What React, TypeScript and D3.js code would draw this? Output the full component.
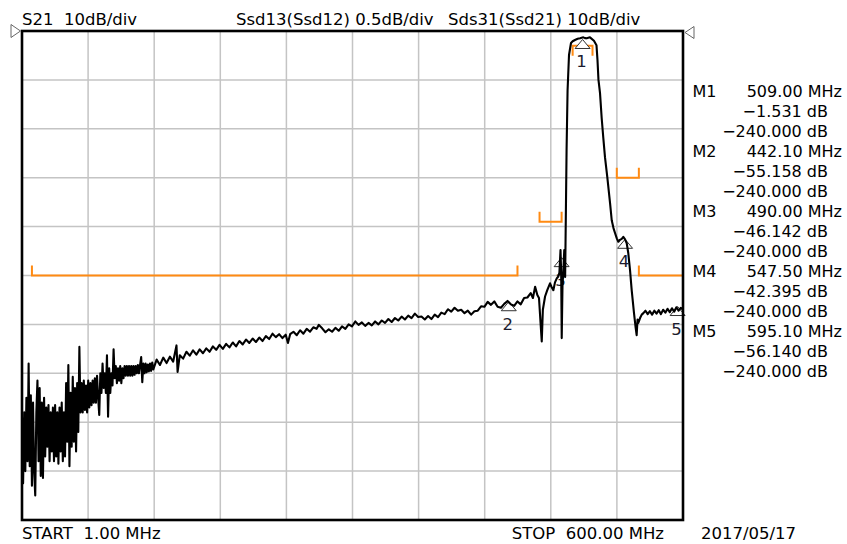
import * as d3 from "d3";
import { useEffect, useRef } from "react";

const chartWidth = 847;
const chartHeight = 544;

// sweep and scale: 1 - 600 MHz, 10 dB/div, reference 0 dB at the top line
const startMHz = 1;
const stopMHz = 600;
const topDb = 0;
const bottomDb = -100;

// low end of the sweep, one reading per MHz (very noisy)
const lowMHz = [
  1, 2, 3, 4, 5, 6, 7, 8, 9, 10, 11, 12, 13, 14, 15, 16, 17, 18, 19, 20,
  21, 22, 23, 24, 25, 26, 27, 28, 29, 30, 31, 32, 33, 34, 35, 36, 37, 38, 39, 40,
  41, 42, 43, 44, 45, 46, 47, 48, 49, 50, 51, 52, 53, 54, 55, 56, 57, 58, 59, 60,
  61, 62, 63, 64, 65, 66, 67, 68, 69, 70, 71, 72, 73, 74, 75, 76, 77, 78, 79, 80,
  81, 82, 83, 84, 85, 86, 87, 88, 89, 90, 91, 92, 93, 94, 95, 96, 97, 98, 99, 100,
  101, 102, 103, 104, 105, 106, 107, 108, 109, 110, 111, 112, 113, 114, 115, 116, 117, 118, 119, 120,
];
const lowDb = [
  -79, -92.5, -78, -90, -75, -88, -68, -89, -74.5, -93,
  -76, -90, -95, -78, -71.5, -88, -73, -91, -76, -91.4,
  -75, -87, -77, -85, -76.5, -88, -78, -86, -77, -88,
  -76.5, -87, -78, -88.5, -77, -86, -76, -88, -78, -87,
  -72, -84, -68.3, -89, -74, -85, -70.7, -84, -73, -86,
  -72, -82, -64.6, -78, -72, -78, -71.5, -77.5, -72.5, -78,
  -71.5, -77, -72, -76.5, -71.5, -76, -71, -76, -70.5, -75,
  -78.5, -70, -74, -68, -73, -70, -74, -66.3, -78.9, -69,
  -74, -70, -72.5, -65.1, -71, -68.5, -72, -69, -71.5, -68.5,
  -72, -69, -71, -68.5, -70.5, -68.5, -70.5, -68.5, -70.5, -68.5,
  -70.5, -68.5, -70.3, -68.5, -70, -68.3, -70, -68.3, -66.7, -71.8,
  -68, -70, -68, -69.8, -68.2, -69.6, -68, -69.5, -67.8, -69.2,
];

// rest of the sweep: slope, the filter passband and the upper stopband
const bandMHz = [
  123, 126, 129, 132, 135, 138, 141, 142, 144, 147, 150, 153, 156, 159, 162, 165, 168, 171, 174, 177,
  180, 183, 186, 189, 192, 195, 198, 201, 204, 207, 210, 213, 216, 219, 222, 225, 228, 231, 234, 237,
  240, 242, 244, 247, 250, 253, 256, 259, 262, 265, 268, 270, 273, 276, 279, 282, 285, 288, 291, 294,
  297, 300, 303, 306, 309, 312, 315, 318, 321, 324, 327, 330, 333, 336, 339, 342, 345, 348, 351, 354,
  357, 360, 363, 366, 369, 372, 375, 378, 381, 384, 387, 390, 393, 396, 399, 402, 405, 408, 411, 414,
  417, 420, 423, 426, 429, 432, 435, 438, 441, 444, 447, 450, 453, 456, 459, 462, 464, 466, 468, 469.5,
  471, 472, 473, 475, 477, 479.5, 481, 482.5, 484, 485.6, 487, 488, 489, 489.6, 490.1, 490.8, 491.6, 492.4, 493.2,
  494.5, 495.4, 496.7, 498.5, 500, 502.1, 504.5, 506.7, 509.7, 511.2, 512.7, 515.7, 519.3, 521.6,
  522.5, 523.4, 524.8, 526.3, 527.8, 529.3, 531.4, 533.9, 535.4, 537, 538.4, 540, 541.4, 542.9,
  544.5, 545.9, 547.5, 549, 550.4, 552, 553.5, 555.6, 557, 558, 558.8, 559.5, 561.1, 562.6, 564.1,
  566, 568, 570, 572, 574, 576, 578, 580, 582, 584, 586, 588, 590, 592, 594, 596, 598, 600,
];
const bandDb = [
  -67.2, -68.3, -66.8, -67.9, -66.6, -67.6, -64.3, -69.7, -66.3, -67.0, -65.6, -66.4, -65.3, -66.2, -65.1, -65.9, -64.9, -65.6, -64.5, -65.2,
  -64.2, -65.0, -64.0, -64.7, -63.7, -64.5, -63.4, -64.1, -63.1, -63.8, -62.9, -63.6, -62.7, -63.4, -62.4, -63.0, -61.9, -62.6, -62.0, -62.8,
  -62.1, -63.8, -62.0, -61.5, -62.2, -61.2, -61.9, -60.9, -61.5, -60.6, -60.9, -60.1, -60.8, -61.6, -61.0, -61.5, -60.7, -61.3, -60.4, -60.9,
  -60.0, -60.4, -59.4, -60.1, -59.6, -60.3, -59.7, -60.2, -59.4, -60.0, -59.2, -59.7, -58.9, -59.5, -58.7, -59.2, -58.4, -59.0, -58.2, -58.7,
  -57.8, -58.5, -58.4, -59.0, -58.3, -58.9, -58.0, -58.5, -57.6, -57.9, -56.9, -57.4, -56.6, -57.2, -57.0, -57.7, -57.2, -58.0, -57.3, -57.2,
  -56.3, -56.4, -55.4, -56.0, -55.3, -56.4, -56.6, -55.8, -55.2, -55.9, -56.2, -55.3, -55.9, -54.6, -54.5, -53.6, -54.6, -52.3, -54.0, -54.6,
  -60.0, -63.5, -57.0, -54.3, -53.0, -51.6, -52.4, -53.0, -51.4, -50.6, -50.2, -49.4, -44.8, -49.5, -62.8, -52.0, -48.9, -44.8, -50.3,
  -24.3, -12.1, -4.9, -2.45, -2.1, -1.84, -1.6, -1.5, -1.3, -1.45, -1.5, -1.3, -2.0, -2.9,
  -5.9, -10.0, -12.7, -17.8, -21.9, -25.8, -29.9, -35.2, -38.7, -40.3, -41.3, -42.4, -43.1, -42.7,
  -42.5, -42.1, -42.6, -43.4, -45.4, -48.9, -53.0, -57.7, -60.5, -62.2, -59.0, -59.7, -58.7, -58.0, -57.7,
  -57.2, -57.9, -57.3, -58.0, -57.2, -57.8, -57.1, -57.9, -57.0, -57.6, -56.8, -57.5, -56.7, -57.4, -56.5, -57.2, -56.6, -57.0,
];

// markers
const markerNames = ["1", "2", "3", "4", "5"];
const markerMHz = [509.0, 442.1, 490.0, 547.5, 595.1];
const markerDb = [-1.531, -55.158, -46.142, -42.395, -56.14];
const markerFreqText = ["509.00 MHz", "442.10 MHz", "490.00 MHz", "547.50 MHz", "595.10 MHz"];
const markerDbText = ["\u22121.531 dB", "\u221255.158 dB", "\u221246.142 dB", "\u221242.395 dB", "\u221256.140 dB"];
const markerDb2Text = ["\u2212240.000 dB", "\u2212240.000 dB", "\u2212240.000 dB", "\u2212240.000 dB", "\u2212240.000 dB"];

// limit lines (orange)
const limitStartMHz = [10, 470, 500, 540, 560];
const limitStopMHz = [450, 490, 518, 560, 600];
const limitDb = [-50, -39, -3, -30, -50];
const limitIsMin = [false, false, true, false, false];

const headerTexts = ["S21  10dB/div", "Ssd13(Ssd12) 0.5dB/div", "Sds31(Ssd21) 10dB/div"];
const startText = "START  1.00 MHz";
const stopText = "STOP  600.00 MHz";
const dateText = "2017/05/17";

const Chart = () => {
  const ref = useRef<SVGSVGElement | null>(null);

  useEffect(() => {
    const svg = d3.select(ref.current);
    svg.selectAll("*").remove();

    const left = 22, right = 683, top = 31, bottom = 520;
    const xScale = d3.scaleLinear().domain([startMHz, stopMHz]).range([left, right]);
    const yScale = d3.scaleLinear().domain([bottomDb, topDb]).range([bottom, top]);
    const font = "DejaVu Sans";

    svg.append("rect").attr("width", chartWidth).attr("height", chartHeight).attr("fill", "#fff");

    // grid
    const gx = d3.range(1, 10).map((i) => startMHz + (i * (stopMHz - startMHz)) / 10);
    const gy = d3.range(bottomDb + 10, topDb, 10);
    const grid = svg.append("g").attr("stroke", "#c4c4c4").attr("stroke-width", 1.5);
    grid.selectAll("line.v").data(gx).join("line")
      .attr("x1", (d) => xScale(d)).attr("x2", (d) => xScale(d))
      .attr("y1", top).attr("y2", bottom);
    grid.selectAll("line.h").data(gy).join("line")
      .attr("class", "h")
      .attr("x1", left).attr("x2", right)
      .attr("y1", (d) => yScale(d)).attr("y2", (d) => yScale(d));

    // limit lines
    const tick = 10;
    const limits = limitDb.map((db, i) => ({ a: limitStartMHz[i], b: limitStopMHz[i], db, min: limitIsMin[i] }));
    svg.append("g").selectAll("path").data(limits).join("path")
      .attr("fill", "none").attr("stroke", "#ff8a12").attr("stroke-width", 2)
      .attr("d", (d) => {
        const y = yScale(d.db);
        const t = d.min ? y + tick : y - tick;
        return `M${xScale(d.a)},${t}L${xScale(d.a)},${y}L${xScale(d.b)},${y}L${xScale(d.b)},${t}`;
      });

    // markers
    const markers = markerMHz.map((f, i) => ({ f, db: markerDb[i], name: markerNames[i] }));
    const mg = svg.append("g");
    mg.selectAll("path").data(markers).join("path")
      .attr("fill", "#fff").attr("stroke", "#333").attr("stroke-width", 1)
      .attr("d", (d) => {
        const x = xScale(d.f), y = yScale(d.db) + 1;
        return `M${x},${y}L${x - 7.5},${y + 9}L${x + 7.5},${y + 9}Z`;
      });
    mg.selectAll("text").data(markers).join("text")
      .attr("x", (d) => xScale(d.f) - 1).attr("y", (d) => yScale(d.db) + 29)
      .attr("text-anchor", "middle").attr("font-family", font).attr("font-size", 16.5)
      .attr("fill", "#1b1b2e").text((d) => d.name);

    // trace
    const dataset = lowMHz.map((f, i) => ({ f, db: lowDb[i] }))
      .concat(bandMHz.map((f, i) => ({ f, db: bandDb[i] })));
    const line = d3.line<{ f: number; db: number }>()
      .x((d) => xScale(d.f)).y((d) => yScale(d.db));
    svg.append("path").datum(dataset)
      .attr("d", line).attr("fill", "none").attr("stroke", "#000")
      .attr("stroke-width", 2.1).attr("stroke-linejoin", "round");

    // frame
    svg.append("rect").attr("x", left).attr("y", top)
      .attr("width", right - left).attr("height", bottom - top)
      .attr("fill", "none").attr("stroke", "#000").attr("stroke-width", 2.6);

    // reference level pointers
    svg.append("path").attr("d", "M11,24.5L20.5,31L11,37.5Z")
      .attr("fill", "#fff").attr("stroke", "#666").attr("stroke-width", 1);
    svg.append("path").attr("d", "M694,26.5L685,32.5L694,38.5Z")
      .attr("fill", "#fff").attr("stroke", "#666").attr("stroke-width", 1);

    // header
    const headerX = [22, 236, 448];
    svg.append("g").selectAll("text").data(headerTexts).join("text")
      .attr("x", (d, i) => headerX[i]).attr("y", 25)
      .attr("font-family", font).attr("font-size", 16.5).attr("fill", "#000")
      .style("white-space", "pre").text((d) => d);

    // marker readout: name on the frequency row, then two dB rows
    const rows: { t: string; x: number; anchor: string; row: number }[] = [];
    markers.forEach((m, i) => {
      rows.push({ t: "M" + m.name, x: 692.5, anchor: "start", row: i * 3 });
      rows.push({ t: markerFreqText[i], x: 842, anchor: "end", row: i * 3 });
      rows.push({ t: markerDbText[i], x: 828, anchor: "end", row: i * 3 + 1 });
      rows.push({ t: markerDb2Text[i], x: 828, anchor: "end", row: i * 3 + 2 });
    });
    svg.append("g").selectAll("text").data(rows).join("text")
      .attr("x", (d) => d.x).attr("y", (d) => 96.5 + d.row * 20.05)
      .attr("text-anchor", (d) => d.anchor)
      .attr("font-family", font).attr("font-size", 16).attr("fill", "#000")
      .text((d) => d.t);

    // footer
    const foot = svg.append("g").attr("font-family", font).attr("font-size", 16.5).attr("fill", "#000");
    foot.append("text").attr("x", 22).attr("y", 539).style("white-space", "pre").text(startText);
    foot.append("text").attr("x", 664).attr("y", 539).attr("text-anchor", "end").style("white-space", "pre").text(stopText);
    foot.append("text").attr("x", 701).attr("y", 539).text(dateText);
  }, []);

  return (
    <svg ref={ref} width={chartWidth} height={chartHeight}
      style={{ position: "absolute", left: 0, top: 0, display: "block" }} />
  );
};

export default function App() {
  return <Chart />;
}
